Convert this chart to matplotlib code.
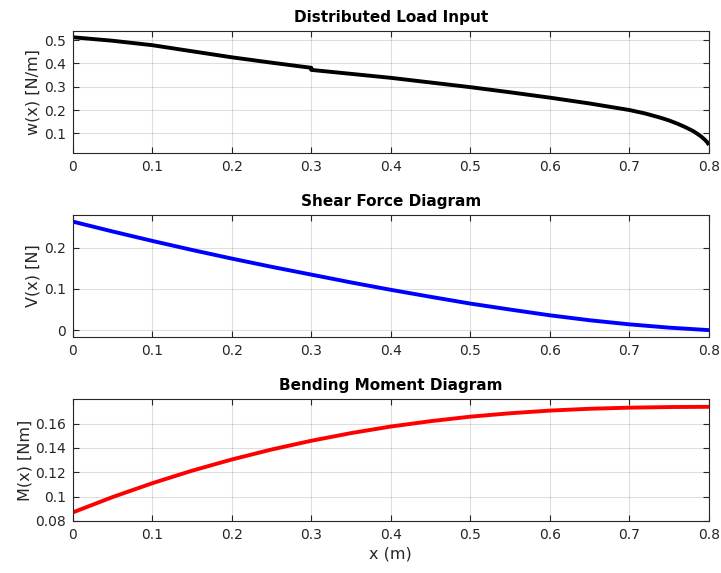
import matplotlib
matplotlib.use("Agg")
import matplotlib.pyplot as plt

# ---- data ----
x_load = [0.0, 0.05, 0.1, 0.15, 0.2, 0.25, 0.3, 0.3, 0.35, 0.4, 0.45, 0.5, 0.55,
          0.6, 0.65, 0.7, 0.72, 0.74, 0.75, 0.76, 0.77, 0.78, 0.785, 0.79,
          0.795, 0.798, 0.8]
w_load = [0.512, 0.497, 0.478, 0.452, 0.426, 0.403, 0.381, 0.372, 0.355, 0.338,
          0.318, 0.298, 0.276, 0.253, 0.228, 0.200, 0.185, 0.166, 0.155, 0.142,
          0.127, 0.110, 0.099, 0.087, 0.072, 0.061, 0.050]

x_sm = [0.0, 0.05, 0.1, 0.15, 0.2, 0.25, 0.3, 0.35, 0.4, 0.45, 0.5, 0.55, 0.6,
        0.65, 0.7, 0.75, 0.8]
shear = [0.264, 0.240, 0.217, 0.195, 0.174, 0.154, 0.135, 0.116, 0.098, 0.081,
         0.0645, 0.050, 0.036, 0.024, 0.014, 0.006, 0.0]
moment = [0.0870, 0.0996, 0.1110, 0.1213, 0.1305, 0.1387, 0.1459, 0.1522, 0.1576,
          0.1620, 0.1657, 0.1685, 0.1707, 0.1722, 0.1731, 0.1736, 0.1738]

x_ticks = [0, 0.1, 0.2, 0.3, 0.4, 0.5, 0.6, 0.7, 0.8]
x_ticklabels = ["0", "0.1", "0.2", "0.3", "0.4", "0.5", "0.6", "0.7", "0.8"]
w_ticks = [0.1, 0.2, 0.3, 0.4, 0.5]
w_ticklabels = ["0.1", "0.2", "0.3", "0.4", "0.5"]
v_ticks = [0, 0.1, 0.2]
v_ticklabels = ["0", "0.1", "0.2"]
m_ticks = [0.08, 0.1, 0.12, 0.14, 0.16]
m_ticklabels = ["0.08", "0.1", "0.12", "0.14", "0.16"]

plt.rcParams['font.family'] = ['DejaVu Sans']

DARK = '#262626'
fig = plt.figure(figsize=(7.21, 5.73), dpi=100)

positions = [
    [0.1008, 0.7335, 0.8825, 0.2129],
    [0.1008, 0.4124, 0.8825, 0.2124],
    [0.1008, 0.0908, 0.8825, 0.2124],
]

panels = [
    (x_load, w_load, 'black', 'Distributed Load Input', 'w(x) [N/m]',
     (0.017, 0.54), w_ticks, w_ticklabels),
    (x_sm, shear, '#0000ff', 'Shear Force Diagram', 'V(x) [N]',
     (-0.016, 0.28), v_ticks, v_ticklabels),
    (x_sm, moment, '#ff0000', 'Bending Moment Diagram', 'M(x) [Nm]',
     (0.08, 0.18), m_ticks, m_ticklabels),
]

for i, (xs, ys, col, title, ylab, ylim, yt, ytl) in enumerate(panels):
    ax = fig.add_axes(positions[i])
    ax.plot(xs, ys, color=col, lw=2.8, solid_capstyle='butt',
            solid_joinstyle='round')
    ax.set_xlim(0, 0.8)
    ax.set_ylim(*ylim)
    ax.set_xticks(x_ticks)
    ax.set_xticklabels(x_ticklabels)
    ax.set_yticks(yt)
    ax.set_yticklabels(ytl)
    ax.grid(True, color=DARK, alpha=0.15, lw=0.8)
    ax.set_axisbelow(True)
    ax.tick_params(direction='in', length=4.5, width=0.8, colors=DARK,
                   labelsize=10, top=True, right=True, pad=5)
    for s in ax.spines.values():
        s.set_color(DARK)
        s.set_linewidth(0.8)
    ax.set_title(title, fontsize=11, fontweight='bold', color='black', pad=6.5)
    ax.set_ylabel(ylab, fontsize=11.5, color=DARK, labelpad=2)
    if i == 2:
        ax.set_xlabel('x (m)', fontsize=11.5, color=DARK, labelpad=3)

fig.savefig('out.png', dpi=100)
